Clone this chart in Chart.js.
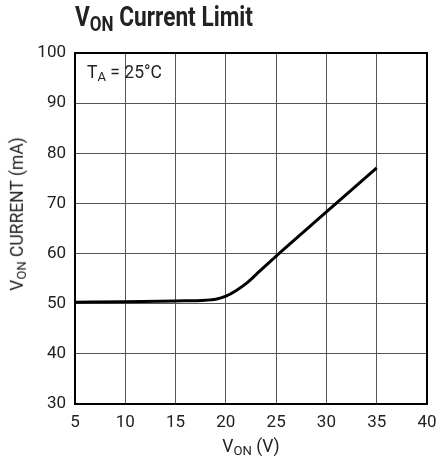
<!DOCTYPE html>
<html>
<head>
<meta charset="utf-8">
<script src="https://cdn.jsdelivr.net/npm/chart.js@4"></script>
<style>
  body { margin: 0; background: #fff; }
  #wrap { position: relative; width: 438px; height: 466px; font-family: Roboto, "Liberation Sans", sans-serif; color: #222; }
  #myChart { position: absolute; left: 0; top: 0; }
  .lbl { position: absolute; white-space: nowrap; }
  .lbl sub { font-size: 0.75em; vertical-align: -0.25em; }
  #title { left: 75px; top: 0px; font-size: 28px; font-weight: bold; transform: scaleX(0.81); transform-origin: 0 0; }
  #xTitle { left: 251px; top: 436px; font-size: 17.5px; transform: translateX(-50%); }
  #yTitle { left: 18px; top: 214px; font-size: 17.5px; transform: translate(-50%, -50%) rotate(-90deg); }
  #note { left: 87px; top: 62px; font-size: 17.5px; }
</style>
</head>
<body>
<div id="wrap">
  <canvas id="myChart" width="438" height="466"></canvas>
  <div class="lbl" id="title">V<sub>ON</sub> Current Limit</div>
  <div class="lbl" id="note">T<sub>A</sub> = 25°C</div>
  <div class="lbl" id="xTitle">V<sub>ON</sub> (V)</div>
  <div class="lbl" id="yTitle">V<sub>ON</sub> CURRENT (mA)</div>
</div>
<script>
const vonVolts = [5, 10, 15, 18, 19, 20, 21, 22, 23, 25, 30, 35];
const vonCurrent = [50.3, 50.4, 50.55, 50.7, 50.9, 51.5, 52.6, 54.0, 55.8, 59.5, 68.3, 77.1];
const xTicks = [5, 10, 15, 20, 25, 30, 35, 40];
const yTicks = [30, 40, 50, 60, 70, 80, 90, 100];

const tickFont = { family: 'Roboto, "Liberation Sans", sans-serif', size: 17 };

const ctx = document.getElementById('myChart').getContext('2d');
const myChart = new Chart(ctx, {
    type: 'line',
    data: {
        datasets: [{
            data: vonVolts.map((v, i) => ({ x: v, y: vonCurrent[i] })),
            borderColor: '#000',
            borderWidth: 3,
            pointRadius: 0,
            cubicInterpolationMode: 'monotone',
            fill: false
        }]
    },
    options: {
        responsive: false,
        animation: false,
        devicePixelRatio: 1,
        layout: { padding: { top: 53, right: 11, left: 0, bottom: 0 } },
        plugins: { legend: { display: false }, tooltip: { enabled: false } },
        scales: {
            x: {
                type: 'linear',
                min: xTicks[0],
                max: xTicks[xTicks.length - 1],
                afterBuildTicks: s => { s.ticks = xTicks.map(v => ({ value: v })); },
                afterFit: s => { s.height = 62; s.paddingLeft = 0; s.paddingRight = 0; },
                grid: { color: '#555', lineWidth: 1, drawTicks: false },
                border: { color: '#000', width: 2 },
                ticks: { font: tickFont, color: '#222', padding: 9 }
            },
            y: {
                type: 'linear',
                min: yTicks[0],
                max: yTicks[yTicks.length - 1],
                afterBuildTicks: s => { s.ticks = yTicks.map(v => ({ value: v })); },
                afterFit: s => { s.width = 75; s.paddingTop = 0; s.paddingBottom = 0; },
                grid: { color: '#555', lineWidth: 1, drawTicks: false },
                border: { color: '#000', width: 2 },
                ticks: { font: tickFont, color: '#222', padding: 9 }
            }
        }
    },
    plugins: [{
        id: 'frame',
        afterDraw(chart) {
            const a = chart.chartArea, c = chart.ctx;
            c.save();
            c.strokeStyle = '#000';
            c.lineWidth = 2;
            c.strokeRect(a.left, a.top, a.right - a.left, a.bottom - a.top);
            c.restore();
        }
    }]
});
</script>
</body>
</html>
